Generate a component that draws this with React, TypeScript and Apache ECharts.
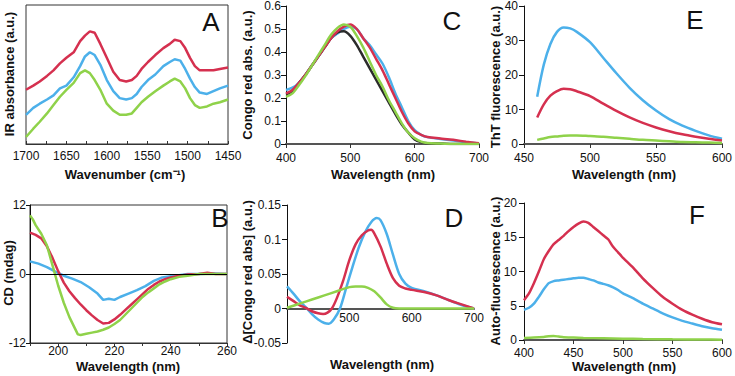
import React, { useEffect, useRef } from "react";
import * as echarts from "echarts";

// ---------- Panel A: IR absorbance ----------
const A_WN = [1700,1691,1683,1674,1666,1658,1650,1641,1633,1627,1621,1615,1608,1600,1592,1584,1576,1569,1563,1557,1549,1540,1530,1522,1516,1509,1503,1497,1491,1485,1476,1468,1460,1450];
const A_RED = [0.39,0.42,0.45,0.49,0.53,0.58,0.62,0.66,0.74,0.78,0.81,0.80,0.72,0.62,0.52,0.46,0.45,0.46,0.49,0.54,0.59,0.64,0.69,0.72,0.75,0.74,0.69,0.62,0.56,0.53,0.53,0.53,0.54,0.55];
const A_BLUE = [0.21,0.26,0.29,0.32,0.35,0.40,0.42,0.48,0.56,0.63,0.66,0.64,0.57,0.46,0.38,0.33,0.32,0.33,0.36,0.41,0.46,0.50,0.56,0.59,0.61,0.60,0.54,0.47,0.41,0.37,0.36,0.38,0.40,0.42];
const A_GREEN = [0.05,0.11,0.16,0.22,0.28,0.34,0.39,0.44,0.51,0.53,0.51,0.46,0.39,0.29,0.24,0.21,0.21,0.22,0.26,0.30,0.34,0.38,0.42,0.45,0.47,0.45,0.40,0.33,0.28,0.26,0.27,0.29,0.30,0.32];

// ---------- Panel B: CD ----------
const B_BLUE_WL = [190,193,196,199,202,205,208,211,214,216,218,220,222,225,228,231,234,237,240,243,246,250,255,260];
const B_BLUE = [2.2,1.8,1.2,0.4,-0.3,-0.8,-1.4,-2.3,-3.4,-4.5,-4.3,-4.5,-4.0,-3.4,-2.8,-2.1,-1.2,-0.6,-0.4,-0.2,0.0,0,0.1,0];
const B_RED_WL = [190,192,194,196,198,200,202,204,206,208,210,212,214,216,218,220,222,224,226,228,230,232,234,236,238,240,243,246,250,253,256,260];
const B_RED = [7.2,6.8,6.2,4.8,2.8,0.5,-1.5,-3.0,-4.2,-5.3,-6.3,-7.2,-8.0,-8.6,-8.5,-7.9,-7.1,-6.2,-5.3,-4.4,-3.5,-2.6,-1.9,-1.3,-0.9,-0.6,-0.3,-0.1,0,0.2,0,0];
const B_GREEN_WL = [190,191,192,194,196,198,200,202,204,206,207,208,210,212,214,216,218,220,222,224,226,228,230,232,234,236,238,240,243,246,250,255,260];
const B_GREEN = [10.2,9.5,8.5,7.0,5.0,1.5,-2.0,-5.0,-7.5,-9.5,-10.5,-10.6,-10.4,-10.2,-10.0,-9.7,-9.3,-8.7,-8.0,-7.0,-6.0,-5.0,-4.0,-3.2,-2.5,-1.8,-1.3,-0.9,-0.5,-0.3,0,0,0];

// ---------- Panel C: Congo red absorbance ----------
const C_WL = [400,410,420,430,440,450,460,470,480,490,500,510,520,530,540,550,560,570,580,590,600,610,620,640,660,680,700];
const C_BLUE = [0.235,0.245,0.265,0.30,0.34,0.38,0.42,0.46,0.48,0.50,0.51,0.50,0.46,0.43,0.39,0.35,0.29,0.22,0.16,0.10,0.06,0.04,0.03,0.022,0.015,0.008,0.002];
const C_BLACK = [0.215,0.23,0.265,0.30,0.34,0.38,0.42,0.46,0.485,0.49,0.47,0.43,0.38,0.33,0.28,0.23,0.18,0.13,0.085,0.05,0.02,0.008,0.003,0.002,0,0,0];
const C_RED = [0.22,0.235,0.265,0.30,0.34,0.38,0.42,0.46,0.49,0.51,0.52,0.50,0.46,0.42,0.37,0.32,0.26,0.20,0.14,0.09,0.055,0.04,0.03,0.024,0.018,0.01,0.003];
const C_GREEN = [0.205,0.22,0.255,0.295,0.34,0.385,0.43,0.475,0.505,0.52,0.51,0.47,0.42,0.36,0.30,0.25,0.19,0.14,0.09,0.05,0.025,0.01,0.004,0.002,0,0,0];

// ---------- Panel D: difference Congo red ----------
const D_BLUE_WL = [400,410,420,430,440,450,460,467,475,485,495,505,515,525,535,544,550,560,570,580,590,600,620,640,660,680,700];
const D_BLUE = [0.032,0.022,0.011,0.002,-0.008,-0.016,-0.021,-0.022,-0.016,0,0.03,0.06,0.088,0.11,0.125,0.131,0.128,0.108,0.078,0.05,0.036,0.03,0.025,0.019,0.012,0.005,0];
const D_RED_WL = [400,410,420,430,440,450,458,465,472,480,490,500,510,520,530,535,540,550,560,570,580,590,600,620,640,660,680,700];
const D_RED = [0.017,0.011,0.005,0.001,-0.004,-0.007,-0.008,-0.006,0,0.015,0.04,0.07,0.093,0.106,0.113,0.114,0.109,0.09,0.065,0.044,0.033,0.029,0.027,0.024,0.019,0.012,0.006,0];
const D_GREEN_WL = [400,420,440,460,480,500,510,520,530,540,550,560,570,580,600,650,700];
const D_GREEN = [0.001,0.007,0.013,0.019,0.025,0.031,0.032,0.032,0.030,0.025,0.016,0.006,0.001,0,0,0,0];

// ---------- Panel E: ThT fluorescence ----------
const E_WL = [460,465,470,475,480,485,490,500,510,520,530,540,550,560,570,580,590,600];
const E_BLUE = [13.7,23,29,32.5,33.8,33.5,32.5,29.5,25,20.5,16.3,12.7,9.7,7.2,5.3,3.8,2.5,1.5];
const E_RED = [7.7,11.5,14,15.3,16,15.9,15.3,13.9,11.7,9.6,7.7,6.1,4.8,3.7,2.8,2.1,1.5,1.0];
const E_GREEN = [1.2,1.6,2.0,2.2,2.4,2.5,2.5,2.3,2.1,1.8,1.5,1.2,1.0,0.8,0.6,0.5,0.4,0.3];

// ---------- Panel F: auto-fluorescence ----------
const F_WL = [400,405,410,415,420,425,430,435,440,445,450,455,460,465,470,475,480,485,490,495,500,510,520,530,540,550,560,570,580,590,600];
const F_RED = [5.8,6.8,8.3,10.0,11.8,13.0,14.0,14.6,15.2,15.9,16.5,17.0,17.3,17.1,16.5,15.9,15.3,14.7,13.6,12.8,12.0,10.6,9.0,7.6,6.3,5.3,4.4,3.7,3.1,2.6,2.3];
const F_BLUE = [4.4,4.7,5.3,6.3,7.4,8.3,8.6,8.7,8.8,8.9,9.0,9.1,9.1,8.9,8.7,8.4,8.2,8.0,7.7,7.3,6.8,6.1,5.3,4.6,3.9,3.3,2.8,2.4,2.0,1.7,1.5];
const F_GREEN_WL = [400,410,420,425,430,435,440,450,460,480,500,520,550,580,600];
const F_GREEN = [0.3,0.35,0.45,0.55,0.6,0.5,0.4,0.35,0.3,0.25,0.2,0.15,0.1,0.07,0.05];

const RED = "#d5304f";
const BLUE = "#4cb0ea";
const GREEN = "#8fd24a";
const BLACK = "#2b2b2b";
const FONT = '"Liberation Sans", Arial, sans-serif';

const pairs = (xs: number[], ys: number[]) => xs.map((x, i) => [x, ys[i]]);

function line(idx: number, xs: number[], ys: number[], color: string, smooth: boolean | number, extra: any = {}) {
  return {
    type: "line",
    xAxisIndex: idx,
    yAxisIndex: idx,
    data: pairs(xs, ys),
    showSymbol: false,
    symbol: "none",
    smooth,
    lineStyle: { color, width: 2.5 },
    itemStyle: { color },
    ...extra,
  };
}

const labelStyle = { fontFamily: FONT, fontSize: 12, color: "#111" };

function xAxis(idx: number, min: number, max: number, interval: number, opts: any = {}) {
  return {
    type: "value",
    gridIndex: idx,
    min,
    max,
    interval,
    splitLine: { show: false },
    axisLine: { onZero: false, lineStyle: { color: "#555", width: 2 } },
    axisTick: { length: 4, lineStyle: { color: "#333" } },
    axisLabel: { ...labelStyle, margin: 8 },
    ...opts,
  };
}

function yAxis(idx: number, min: number, max: number, interval: number, opts: any = {}) {
  return {
    type: "value",
    gridIndex: idx,
    min,
    max,
    interval,
    splitLine: { show: false },
    axisLine: { show: true, lineStyle: { color: "#111", width: 1 } },
    axisTick: { show: true, length: 5, lineStyle: { color: "#111" } },
    axisLabel: { ...labelStyle, margin: 5 },
    ...opts,
  };
}

function title(text: string, x: number, y: number, vertical = false) {
  return {
    type: "text",
    x,
    y,
    rotation: vertical ? Math.PI / 2 : 0,
    style: {
      text,
      fontFamily: FONT,
      fontSize: 13,
      fontWeight: "bold",
      fill: "#111",
      align: "center",
      verticalAlign: "middle",
    },
  };
}

function letter(text: string, x: number, y: number) {
  return {
    type: "text",
    x,
    y,
    style: {
      text,
      fontFamily: FONT,
      fontSize: 26,
      fill: "#111",
      align: "center",
      verticalAlign: "middle",
    },
  };
}

export default function App() {
  const ref = useRef<HTMLDivElement>(null);
  useEffect(() => {
    if (!ref.current) return;
    const chart = echarts.init(ref.current, null, { renderer: "svg" });
    const option: any = {
      animation: false,
      backgroundColor: "#fff",
      grid: [
        { left: 26, top: 5, width: 202, height: 139, show: true, borderColor: "#333", borderWidth: 1 },
        { left: 30, top: 205, width: 197, height: 138, show: true, borderColor: "#333", borderWidth: 1 },
        { left: 286, top: 6, width: 193, height: 138 },
        { left: 287, top: 205, width: 187, height: 138 },
        { left: 524, top: 6, width: 198, height: 138 },
        { left: 524, top: 203, width: 199, height: 137 },
      ],
      xAxis: [
        xAxis(0, 1450, 1700, 25, {
          inverse: true,
          axisLine: { onZero: false, lineStyle: { color: "#333", width: 1 } },
          axisTick: { inside: true, length: 3, lineStyle: { color: "#333" } },
          axisLabel: { ...labelStyle, margin: 6, formatter: (v: number) => (v % 50 === 0 ? String(v) : "") },
        }),
        xAxis(1, 190, 260, 10, {
          axisLine: { onZero: false, lineStyle: { color: "#333", width: 1 } },
          axisTick: { length: 3, lineStyle: { color: "#333" } },
          axisLabel: { ...labelStyle, margin: 2, formatter: (v: number) => (v % 20 === 0 ? String(v) : "") },
        }),
        xAxis(2, 400, 700, 100),
        xAxis(3, 400, 700, 100, {
          offset: -34.5,
          axisLine: { onZero: false, lineStyle: { color: "#555", width: 2 } },
          axisTick: { show: false },
          axisLabel: { ...labelStyle, margin: 3, formatter: (v: number) => (v === 400 ? "" : String(v)) },
        }),
        xAxis(4, 450, 600, 50),
        xAxis(5, 400, 600, 50, { axisLabel: { ...labelStyle, margin: 7 } }),
      ],
      yAxis: [
        yAxis(0, 0, 1, 0.5, { axisLine: { show: false }, axisTick: { show: false }, axisLabel: { show: false } }),
        yAxis(1, -12, 12, 12, { axisTick: { show: true, length: 4 }, axisLabel: { ...labelStyle, margin: 4 } }),
        yAxis(2, 0, 0.6, 0.1, { axisLabel: { ...labelStyle, margin: 5, formatter: (v: number) => String(Number(v.toFixed(2))) } }),
        yAxis(3, -0.05, 0.15, 0.05, { axisLabel: { ...labelStyle, margin: 6, formatter: (v: number) => String(Number(v.toFixed(2))) } }),
        yAxis(4, 0, 40, 10, { axisLabel: { ...labelStyle, margin: 6 } }),
        yAxis(5, 0, 20, 5, { axisLabel: { ...labelStyle, margin: 7 } }),
      ],
      series: [
        line(0, A_WN, A_RED, RED, false),
        line(0, A_WN, A_BLUE, BLUE, false),
        line(0, A_WN, A_GREEN, GREEN, false),

        line(1, B_BLUE_WL, B_BLUE, BLUE, false, {
          markLine: {
            silent: true,
            symbol: "none",
            label: { show: false },
            lineStyle: { color: "#000", width: 1, type: "solid" },
            data: [{ yAxis: 0 }],
          },
        }),
        line(1, B_RED_WL, B_RED, RED, false),
        line(1, B_GREEN_WL, B_GREEN, GREEN, false),

        line(2, C_WL, C_BLUE, BLUE, 0.3),
        line(2, C_WL, C_BLACK, BLACK, 0.3),
        line(2, C_WL, C_RED, RED, 0.3),
        line(2, C_WL, C_GREEN, GREEN, 0.3),

        line(3, D_BLUE_WL, D_BLUE, BLUE, 0.3),
        line(3, D_RED_WL, D_RED, RED, 0.3),
        line(3, D_GREEN_WL, D_GREEN, GREEN, 0.3),

        line(4, E_WL, E_BLUE, BLUE, 0.3),
        line(4, E_WL, E_RED, RED, 0.3),
        line(4, E_WL, E_GREEN, GREEN, 0.3),

        line(5, F_WL, F_RED, RED, 0.2),
        line(5, F_WL, F_BLUE, BLUE, 0.2),
        line(5, F_GREEN_WL, F_GREEN, GREEN, 0.2),
      ],
      graphic: [
        title("IR absorbance (a.u.)", 9, 74, true),
        title("Wavenumber (cm\u207B\u00B9)", 125, 174),
        title("Congo red abs. (a.u.)", 247, 75, true),
        title("Wavelength (nm)", 383, 174),
        title("ThT fluorescence (a.u.)", 495, 77, true),
        title("Wavelength (nm)", 624, 174),
        title("CD (mdag)", 8, 273, true),
        title("Wavelength (nm)", 128, 366),
        title("\u0394[Congo red abs] (a.u.)", 247, 272, true),
        title("Wavelength (nm)", 382, 364),
        title("Auto-fluorescence (a.u.)", 495, 271, true),
        title("Wavelength (nm)", 624, 366),
        letter("A", 211, 22),
        letter("C", 452, 21),
        letter("E", 695, 20),
        letter("B", 220, 218),
        letter("D", 454, 218),
        letter("F", 697, 215),
      ],
    };
    chart.setOption(option);
    return () => chart.dispose();
  }, []);
  return (
    <div
      ref={ref}
      style={{ position: "fixed", left: 0, top: 0, width: 735, height: 376, background: "#fff" }}
    />
  );
}
